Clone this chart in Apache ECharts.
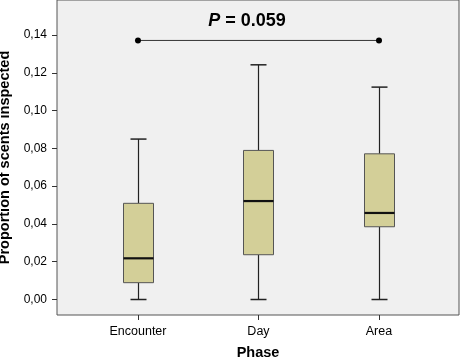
<!DOCTYPE html>
<html><head><meta charset="utf-8">
<script src="https://cdn.jsdelivr.net/npm/echarts@6/dist/echarts.min.js"></script>
<style>html,body{margin:0;padding:0;background:#fff}#c{width:460px;height:357px}</style>
</head><body><div id="c"></div>
<script>
var categories = ['Encounter', 'Day', 'Area'];
// [min, q1, median, q3, max]
var boxEncounter = [0.000, 0.0089, 0.0218, 0.0509, 0.0849];
var boxDay = [0.000, 0.0237, 0.0521, 0.0789, 0.1242];
var boxArea = [0.000, 0.0385, 0.0458, 0.0771, 0.1124];
var yTicks = [0, 0.02, 0.04, 0.06, 0.08, 0.10, 0.12, 0.14];
var sigLevel = 0.1371;
var sigFrom = 0, sigTo = 2;
var sigText = '0.059';

var boxes = [boxEncounter, boxDay, boxArea];
var boxData = boxes.map(function (b, i) { return [i].concat(b); });

var chart = echarts.init(document.getElementById('c'));
var F = '"Liberation Sans", Arial, sans-serif';
chart.setOption({
  animation: false,
  backgroundColor: '#ffffff',
  grid: { left: 57, right: 1, top: 0, bottom: 42, outerBoundsMode: 'none', containLabel: false, show: true, backgroundColor: '#f0f0f0', borderColor: '#555', borderWidth: 1 },
  xAxis: {
    type: 'value', min: -0.672, max: 2.664,
    name: 'Phase', nameLocation: 'middle', nameGap: 30,
    nameTextStyle: { fontFamily: F, fontWeight: 'bold', fontSize: 14.5, color: '#000' },
    axisLine: { show: false, onZero: false },
    splitLine: { show: false },
    axisTick: { show: true, length: 5, customValues: [0, 1, 2], lineStyle: { color: '#333' } },
    axisLabel: { customValues: [0, 1, 2], formatter: function (v) { return categories[Math.round(v)] || ''; }, fontFamily: F, fontSize: 12.5, color: '#000', margin: 10 }
  },
  yAxis: {
    type: 'value', min: -0.0082, max: 0.1585,
    name: 'Proportion of scents inspected', nameLocation: 'middle', nameGap: 41, nameRotate: 90,
    nameTextStyle: { fontFamily: F, fontWeight: 'bold', fontSize: 14.5, color: '#000' },
    axisLine: { show: false, onZero: false },
    splitLine: { show: false },
    axisTick: { show: true, length: 5, customValues: yTicks, lineStyle: { color: '#333' } },
    axisLabel: { customValues: yTicks, formatter: function (v) { return v.toFixed(2).replace('.', ','); }, fontFamily: F, fontSize: 12, color: '#000', margin: 10 }
  },
  series: [
    {
      type: 'custom',
      data: boxData,
      renderItem: function (params, api) {
        var x = api.value(0);
        var pMin = api.coord([x, api.value(1)]);
        var pQ1 = api.coord([x, api.value(2)]);
        var pMed = api.coord([x, api.value(3)]);
        var pQ3 = api.coord([x, api.value(4)]);
        var pMax = api.coord([x, api.value(5)]);
        var cx = Math.round(pMin[0]) + 0.5;
        var hw = 15, cw = 8;
        var ls = { stroke: '#222', lineWidth: 1.2 };
        return {
          type: 'group',
          children: [
            { type: 'line', shape: { x1: cx, y1: pQ3[1], x2: cx, y2: pMax[1] }, style: ls },
            { type: 'line', shape: { x1: cx, y1: pMin[1], x2: cx, y2: pQ1[1] }, style: ls },
            { type: 'line', shape: { x1: cx - cw, y1: pMax[1], x2: cx + cw, y2: pMax[1] }, style: { stroke: '#222', lineWidth: 1.5 } },
            { type: 'line', shape: { x1: cx - cw, y1: pMin[1], x2: cx + cw, y2: pMin[1] }, style: { stroke: '#222', lineWidth: 1.5 } },
            { type: 'rect', shape: { x: cx - hw, y: pQ3[1], width: 2 * hw, height: pQ1[1] - pQ3[1] }, style: { fill: '#d3cf98', stroke: '#555', lineWidth: 1 } },
            { type: 'line', shape: { x1: cx - hw, y1: pMed[1], x2: cx + hw, y2: pMed[1] }, style: { stroke: '#111', lineWidth: 2.2 } }
          ]
        };
      }
    },
    {
      type: 'line',
      data: [[sigFrom, sigLevel], [sigTo, sigLevel]],
      symbol: 'circle', symbolSize: 6,
      itemStyle: { color: '#000' },
      lineStyle: { color: '#333', width: 1 },
      label: { show: false }
    }
  ],
  graphic: [{
    type: 'text', x: 247, y: 21,
    style: {
      text: '{i|P} = ' + sigText,
      align: 'center', verticalAlign: 'middle',
      font: 'bold 18px ' + F,
      fill: '#000',
      rich: { i: { fontStyle: 'italic', fontWeight: 'bold', fontSize: 18, fontFamily: F } }
    }
  }]
});
</script></body></html>
